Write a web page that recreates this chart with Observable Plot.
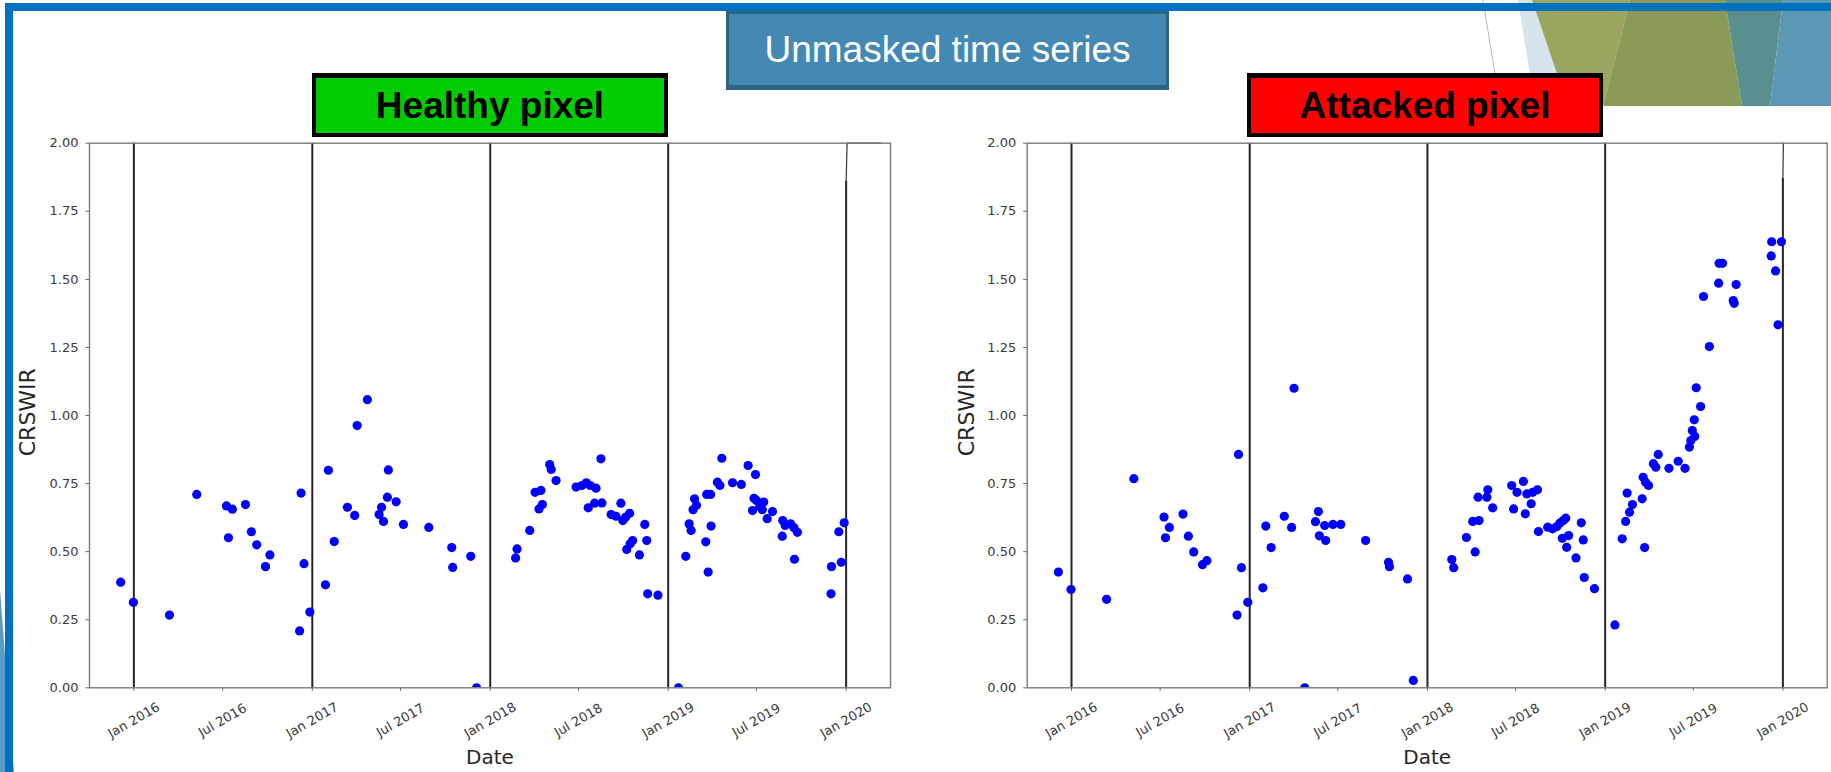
<!DOCTYPE html>
<html>
<head>
<meta charset="utf-8">
<script src="https://cdn.jsdelivr.net/npm/d3@7"></script>
<script src="https://cdn.jsdelivr.net/npm/@observablehq/plot@0.6"></script>
<style>
  html, body { margin: 0; padding: 0; background: #fff; }
  #slide { position: relative; width: 1831px; height: 772px; overflow: hidden; background: #fff; }
  .abs { position: absolute; }
  .box { position: absolute; box-sizing: border-box; display: flex; align-items: center; justify-content: center;
         font-family: "Liberation Sans", Arial, sans-serif; }
  #title { left: 726px; top: 11px; width: 443px; height: 79px; background: #4389b4;
           border: 3px solid #2f6384; border-bottom-width: 5px; color: #fff; font-size: 37px; }
  .tag { top: 73px; width: 356px; height: 64px; border: 4px solid #000; border-top-width: 5px;
         color: #000; font-size: 37px; font-weight: bold; }
  #healthy { left: 312px; background: #00cc00; }
  #attacked { left: 1247px; background: #ff0000; }
  #chartL { left: 0px; top: 100px; }
  #chartR { left: 920px; top: 100px; }
</style>
</head>
<body>
<div id="slide">
  <svg class="abs" style="left:0;top:0" width="1831" height="772">
    <polygon points="1518,0 1532,0 1568,106 1535,106" fill="#d6e4ed"/>
    <polygon points="1532,0 1630,0 1603,106 1568,106" fill="#9aa55e"/>
    <polygon points="1630,0 1725,0 1742,106 1603,106" fill="#8a9b58"/>
    <polygon points="1725,0 1783,0 1770,106 1742,106" fill="#5a8f90"/>
    <polygon points="1783,0 1831,0 1831,106 1770,106" fill="#5b98b4"/>
    <line x1="1483" y1="0" x2="1495" y2="74" stroke="#b8b8b8" stroke-width="1"/>
    <polygon points="0,590 14,772 0,772" fill="#5b9bc8"/>
  </svg>
  <div id="chartL" class="abs"></div>
  <div id="chartR" class="abs"></div>
  <div id="title" class="box">Unmasked time series</div>
  <div id="healthy" class="box tag">Healthy pixel</div>
  <div id="attacked" class="box tag">Attacked pixel</div>
  <div class="abs" style="left:5px;top:3px;width:1826px;height:8px;background:#0070c0"></div>
  <div class="abs" style="left:5px;top:3px;width:8px;height:769px;background:#0070c0"></div>
</div>
<script>
// ---------- data ----------
const xDomain = ["2015-10-02", "2020-04-01"];
const yDomain = [0, 2];
const xTickDates = ["2016-01-01","2016-07-01","2017-01-01","2017-07-01","2018-01-01","2018-07-01","2019-01-01","2019-07-01","2020-01-01"];
const xTickLabels = ["Jan 2016","Jul 2016","Jan 2017","Jul 2017","Jan 2018","Jul 2018","Jan 2019","Jul 2019","Jan 2020"];
const yTicks = [0, 0.25, 0.5, 0.75, 1, 1.25, 1.5, 1.75, 2];
const yTickLabels = ["0.00","0.25","0.50","0.75","1.00","1.25","1.50","1.75","2.00"];
const yearLines = ["2016-01-01","2017-01-01","2018-01-01","2019-01-01"];
const lastYearLine = "2020-01-01";
const lastYearLineTopL = 1.86;
const lastYearLineTopR = 1.87;
const leftTopTraceDates = ["2020-01-01","2020-01-03","2020-03-12"];
const leftTopTraceValues = [1.86, 2.0, 2.0];
const rightTopTraceDates = ["2020-01-01","2020-01-02"];
const rightTopTraceValues = [1.87, 2.0];

const healthyDates = [
 "2015-12-05","2015-12-31","2016-03-14","2016-05-09","2016-07-09","2016-07-13","2016-07-21","2016-08-17","2016-08-29","2016-09-09",
 "2016-09-27","2016-10-06","2016-12-06","2016-12-09","2016-12-15","2016-12-27","2017-01-28","2017-02-03","2017-02-15","2017-03-14",
 "2017-03-29","2017-04-03","2017-04-24","2017-05-18","2017-05-23","2017-05-27","2017-06-04","2017-06-06","2017-06-22","2017-07-07",
 "2017-08-28","2017-10-14","2017-10-16","2017-11-22","2017-12-04","2018-02-22","2018-02-25","2018-03-23","2018-04-03","2018-04-11",
 "2018-04-15","2018-04-18","2018-05-03","2018-05-06","2018-05-16","2018-06-26","2018-07-08","2018-07-17","2018-07-21","2018-07-25",
 "2018-08-03","2018-08-06","2018-08-16","2018-08-18","2018-09-06","2018-09-16","2018-09-26","2018-09-30","2018-10-06","2018-10-08",
 "2018-10-14","2018-10-15","2018-10-20","2018-11-03","2018-11-14","2018-11-18","2018-11-20","2018-12-11","2019-01-22","2019-02-06",
 "2019-02-13","2019-02-17","2019-02-21","2019-02-24","2019-02-28","2019-03-19","2019-03-21","2019-03-24","2019-03-29","2019-03-30",
 "2019-04-12","2019-04-17","2019-04-21","2019-05-13","2019-05-31","2019-06-14","2019-06-23","2019-06-26","2019-06-29","2019-07-01",
 "2019-07-08","2019-07-13","2019-07-16","2019-07-23","2019-08-03","2019-08-24","2019-08-23","2019-08-29","2019-09-09","2019-09-16",
 "2019-09-17","2019-09-23","2019-12-01","2019-12-02","2019-12-17","2019-12-22","2019-12-28"];
const healthyValues = [
 0.388,0.314,0.267,0.710,0.668,0.551,0.656,0.673,0.573,0.525,
 0.445,0.488,0.209,0.715,0.456,0.278,0.378,0.799,0.537,0.663,
 0.633,0.963,1.058,0.636,0.663,0.611,0.700,0.800,0.683,0.600,
 0.589,0.515,0.442,0.483,0.000,0.477,0.510,0.578,0.718,0.657,
 0.725,0.673,0.820,0.802,0.761,0.737,0.743,0.753,0.661,0.743,
 0.678,0.733,0.841,0.679,0.636,0.630,0.678,0.614,0.627,0.508,
 0.641,0.529,0.541,0.488,0.600,0.541,0.345,0.340,0.000,0.483,
 0.602,0.578,0.654,0.694,0.670,0.536,0.710,0.425,0.710,0.594,
 0.755,0.743,0.843,0.753,0.747,0.816,0.651,0.696,0.783,0.688,
 0.667,0.654,0.682,0.621,0.647,0.614,0.557,0.596,0.602,0.588,
 0.472,0.571,0.345,0.445,0.573,0.461,0.606];

const attackedDates = [
 "2015-12-05","2015-12-31","2016-03-13","2016-05-08","2016-07-09","2016-07-12","2016-07-20","2016-08-17","2016-08-28","2016-09-08",
 "2016-09-26","2016-10-05","2016-12-06","2016-12-09","2016-12-15","2016-12-28","2017-01-28","2017-02-03","2017-02-14","2017-03-13",
 "2017-03-28","2017-04-02","2017-04-24","2017-05-16","2017-05-22","2017-05-24","2017-06-04","2017-06-06","2017-06-21","2017-07-07",
 "2017-08-27","2017-10-13","2017-10-15","2017-11-21","2017-12-03","2018-02-20","2018-02-24","2018-03-22","2018-04-04","2018-04-09",
 "2018-04-15","2018-04-17","2018-05-03","2018-05-05","2018-05-15","2018-06-23","2018-06-27","2018-07-04","2018-07-17","2018-07-21",
 "2018-07-24","2018-08-02","2018-08-05","2018-08-15","2018-08-17","2018-09-05","2018-09-15","2018-09-24","2018-09-30","2018-10-05",
 "2018-10-07","2018-10-12","2018-10-14","2018-10-18","2018-11-02","2018-11-13","2018-11-17","2018-11-19","2018-12-10","2019-01-21",
 "2019-02-05","2019-02-12","2019-02-15","2019-02-20","2019-02-26","2019-03-18","2019-03-20","2019-03-23","2019-03-25","2019-03-31",
 "2019-04-10","2019-04-15","2019-04-20","2019-05-12","2019-05-31","2019-06-14","2019-06-23","2019-06-26","2019-06-29","2019-07-03",
 "2019-07-04","2019-07-07","2019-07-16","2019-07-22","2019-08-03","2019-08-23","2019-08-22","2019-08-30","2019-09-21","2019-09-23",
 "2019-09-27","2019-12-09","2019-12-08","2019-12-17","2019-12-22","2019-12-29"];
const attackedValues = [
 0.425,0.361,0.325,0.768,0.627,0.551,0.589,0.638,0.557,0.499,
 0.452,0.467,0.267,0.857,0.441,0.314,0.367,0.594,0.515,0.630,
 0.589,1.100,0.000,0.610,0.647,0.558,0.596,0.541,0.600,0.600,
 0.541,0.461,0.445,0.400,0.027,0.471,0.441,0.552,0.611,0.499,
 0.700,0.614,0.700,0.727,0.661,0.743,0.657,0.718,0.758,0.639,
 0.712,0.676,0.718,0.727,0.574,0.590,0.584,0.592,0.605,0.549,
 0.614,0.623,0.516,0.559,0.477,0.606,0.543,0.405,0.364,0.231,
 0.547,0.611,0.715,0.645,0.673,0.694,0.773,0.515,0.755,0.743,
 0.823,0.810,0.857,0.806,0.832,0.806,0.884,0.908,0.945,0.984,
 0.923,1.102,1.033,1.437,1.253,1.559,1.486,1.559,1.422,1.412,
 1.481,1.638,1.586,1.531,1.333,1.638];

// ---------- chart ----------
const tickLabelMap = new Map(xTickDates.map((d, i) => [+new Date(d), xTickLabels[i]]));
const yLabelMap = new Map(yTicks.map((v, i) => [v, yTickLabels[i]]));

function makeChart({dates, values, width, marginLeft, marginRight, ylabelDx, lineTop, traceDates, traceValues}) {
  const data = dates.map((d, i) => ({date: new Date(d), value: values[i]}));
  const trace = traceDates.map((d, i) => ({date: new Date(d), value: traceValues[i]}));
  return Plot.plot({
    width,
    height: 672,
    marginLeft,
    marginRight,
    marginTop: 42.7,
    marginBottom: 84.7,
    style: {background: "transparent", fontFamily: "'DejaVu Sans', sans-serif", fontSize: "13px", color: "#333", overflow: "visible"},
    x: {type: "utc", domain: xDomain.map(d => new Date(d))},
    y: {domain: yDomain},
    marks: [
      Plot.ruleX(yearLines.map(d => new Date(d)), {x: d => d, y1: yDomain[0], y2: yDomain[1], stroke: "#262626", strokeWidth: 2}),
      Plot.ruleX([new Date(lastYearLine)], {x: d => d, y1: yDomain[0], y2: lineTop, stroke: "#262626", strokeWidth: 2}),
      Plot.line(trace, {x: "date", y: "value", stroke: "#333", strokeWidth: 1.2}),
      Plot.dot(data, {x: "date", y: "value", r: 4.6, fill: "#0000ff", stroke: null, clip: true}),
      Plot.frame({stroke: "#7a7a7a", strokeWidth: 1.4}),
      Plot.axisX(xTickDates.map(d => new Date(d)), {
        tickFormat: d => tickLabelMap.get(+d), tickSize: 3.5, tickPadding: 29, tickRotate: -30,
        textAnchor: "middle", lineAnchor: "middle", fontSize: 13, fill: "#3a3a3a", stroke: "#666", label: null
      }),
      Plot.axisY(yTicks, {
        tickFormat: v => yLabelMap.get(v), tickSize: 3.5, tickPadding: 7.5,
        fontSize: 13, fill: "#3a3a3a", stroke: "#666", label: null
      }),
      Plot.text(["CRSWIR"], {text: d => d, frameAnchor: "left", dx: ylabelDx, dy: -3.3, rotate: -90,
        fontSize: 22, fill: "#262626", textAnchor: "middle", lineAnchor: "middle"}),
      Plot.text(["Date"], {text: d => d, frameAnchor: "bottom", dy: 70, fontSize: 20, fill: "#262626",
        textAnchor: "middle", lineAnchor: "middle"})
    ]
  });
}

document.getElementById("chartL").appendChild(makeChart({
  dates: healthyDates, values: healthyValues, width: 920, marginLeft: 89, marginRight: 30,
  ylabelDx: -61.5, lineTop: lastYearLineTopL, traceDates: leftTopTraceDates, traceValues: leftTopTraceValues
}));
document.getElementById("chartR").appendChild(makeChart({
  dates: attackedDates, values: attackedValues, width: 911, marginLeft: 106.7, marginRight: 4.3,
  ylabelDx: -60.7, lineTop: lastYearLineTopR, traceDates: rightTopTraceDates, traceValues: rightTopTraceValues
}));
</script>
</body>
</html>
